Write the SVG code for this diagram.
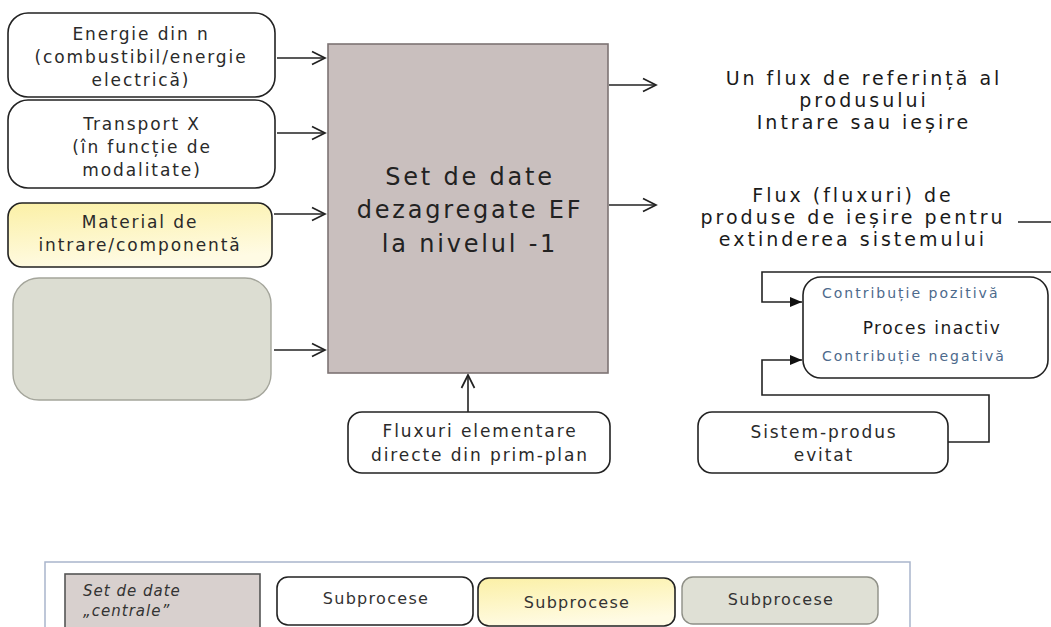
<svg xmlns="http://www.w3.org/2000/svg" width="1051" height="627" viewBox="0 0 1051 627">
<defs>
<style>
.bx{fill:#fff;stroke:#222;stroke-width:1.6}
.t{font-family:"DejaVu Sans",Verdana,sans-serif;font-size:17px;fill:#2a2a2a;text-anchor:middle;letter-spacing:1.9px}
.rt{font-family:"DejaVu Sans",Verdana,sans-serif;font-size:19px;fill:#1a1a1a;text-anchor:middle;letter-spacing:3px}
.ct{font-family:"DejaVu Sans",Verdana,sans-serif;font-size:14px;fill:#4d6a8c;letter-spacing:2px}
.ln{fill:none;stroke:#222;stroke-width:1.6}
.lg{font-family:"DejaVu Sans",Verdana,sans-serif;font-size:16px;fill:#333;text-anchor:middle;letter-spacing:1.3px}
</style>
<marker id="open" markerWidth="18" markerHeight="18" refX="14" refY="8" orient="auto" markerUnits="userSpaceOnUse">
<path d="M1,1.5 L14,8 L1,14.5" fill="none" stroke="#222" stroke-width="1.7"/>
</marker>
<marker id="fill" markerWidth="14" markerHeight="12" refX="12" refY="5" orient="auto" markerUnits="userSpaceOnUse">
<path d="M0,0 L12,5 L0,10 Z" fill="#111"/>
</marker>
<linearGradient id="yel" x1="0" y1="0" x2="0.3" y2="1">
<stop offset="0" stop-color="#fbf0a6"/>
<stop offset="1" stop-color="#fffbe4"/>
</linearGradient>
</defs>
<rect width="1051" height="627" fill="#fff"/>

<g id="connectors">
<line class="ln" x1="277" y1="58" x2="325" y2="58" marker-end="url(#open)"/>
<line class="ln" x1="277" y1="133" x2="325" y2="133" marker-end="url(#open)"/>
<line class="ln" x1="274" y1="214" x2="325" y2="214" marker-end="url(#open)"/>
<line class="ln" x1="274" y1="350" x2="325" y2="350" marker-end="url(#open)"/>
<line class="ln" x1="609" y1="85" x2="656" y2="85" marker-end="url(#open)"/>
<line class="ln" x1="609" y1="205" x2="656" y2="205" marker-end="url(#open)"/>
<line class="ln" x1="468" y1="412" x2="468" y2="375" marker-end="url(#open)"/>
<line class="ln" x1="1018" y1="222" x2="1051" y2="222"/>
<polyline class="ln" points="1051,272 762,272 762,302 802,302" marker-end="url(#fill)"/>
<polyline class="ln" points="948,442 989,442 989,395 762,395 762,360 802,360" marker-end="url(#fill)"/>
</g>

<g id="node-energie">
<rect class="bx" x="8" y="13" width="267" height="84" rx="20"/>
<text class="t" x="141" y="40">Energie din n</text>
<text class="t" x="141" y="63">(combustibil/energie</text>
<text class="t" x="141" y="86">electrică)</text>
</g>

<g id="node-transport">
<rect class="bx" x="8" y="100" width="267" height="88" rx="20"/>
<text class="t" x="142" y="130">Transport X</text>
<text class="t" x="142" y="153">(în funcție de</text>
<text class="t" x="142" y="176">modalitate)</text>
</g>

<g id="node-material">
<rect x="8" y="203" width="264" height="64" rx="14" fill="url(#yel)" stroke="#222" stroke-width="1.6"/>
<text class="t" x="140" y="228">Material de</text>
<text class="t" x="140" y="251">intrare/componentă</text>
</g>

<g id="node-gray">
<rect x="13" y="278" width="258" height="122" rx="26" fill="#dcddd2" stroke="#a4a59b" stroke-width="1.4"/>
</g>

<g id="node-main">
<rect x="328" y="44" width="280" height="329" fill="#c9bfbe" stroke="#7d7474" stroke-width="1.6"/>
<text x="470" y="185" font-family="DejaVu Sans, Verdana, sans-serif" font-size="24" fill="#222" text-anchor="middle" letter-spacing="2.8">Set de date</text>
<text x="470" y="218" font-family="DejaVu Sans, Verdana, sans-serif" font-size="24" fill="#222" text-anchor="middle" letter-spacing="2.8">dezagregate EF</text>
<text x="470" y="252" font-family="DejaVu Sans, Verdana, sans-serif" font-size="24" fill="#222" text-anchor="middle" letter-spacing="2.8">la nivelul -1</text>
</g>

<g id="node-ref">
<text class="rt" x="864" y="85">Un flux de referință al</text>
<text class="rt" x="864" y="107">produsului</text>
<text class="rt" x="864" y="129">Intrare sau ieșire</text>
</g>

<g id="node-flux">
<text class="rt" x="853" y="202">Flux (fluxuri) de</text>
<text class="rt" x="853" y="224">produse de ieșire pentru</text>
<text class="rt" x="853" y="246">extinderea sistemului</text>
</g>

<g id="node-proces">
<rect class="bx" x="803" y="277" width="245" height="101" rx="18"/>
<text class="ct" x="822" y="298">Contribuție pozitivă</text>
<text x="932" y="334" font-family="DejaVu Sans, Verdana, sans-serif" font-size="17" fill="#1a1a1a" text-anchor="middle" letter-spacing="1.5">Proces inactiv</text>
<text class="ct" x="822" y="361">Contribuție negativă</text>
</g>

<g id="node-sistem">
<rect class="bx" x="698" y="412" width="250" height="61" rx="14"/>
<text class="t" x="824" y="438">Sistem-produs</text>
<text class="t" x="824" y="461">evitat</text>
</g>

<g id="node-fluxuri">
<rect class="bx" x="348" y="412" width="262" height="61" rx="14"/>
<text class="t" x="480" y="437">Fluxuri elementare</text>
<text class="t" x="480" y="461">directe din prim-plan</text>
</g>

<g id="legend">
<rect x="45" y="562" width="865" height="80" fill="#fff" stroke="#a9b5cc" stroke-width="1.5"/>
<rect x="65" y="574" width="195" height="70" fill="#d8d0ce" stroke="#555" stroke-width="1.6"/>
<text x="83" y="596" font-family="DejaVu Sans, Verdana, sans-serif" font-size="15" font-style="italic" fill="#333" letter-spacing="1">Set de date</text>
<text x="83" y="616" font-family="DejaVu Sans, Verdana, sans-serif" font-size="15" font-style="italic" fill="#333" letter-spacing="1">„centrale”</text>
<rect class="bx" x="277" y="577" width="196" height="48" rx="11"/>
<text class="lg" x="376" y="604">Subprocese</text>
<rect x="478" y="578" width="197" height="48" rx="11" fill="url(#yel)" stroke="#222" stroke-width="1.6"/>
<text class="lg" x="577" y="608">Subprocese</text>
<rect x="682" y="577" width="196" height="47" rx="11" fill="#dfe0d5" stroke="#8e8f86" stroke-width="1.4"/>
<text class="lg" x="781" y="605">Subprocese</text>
</g>
</svg>
